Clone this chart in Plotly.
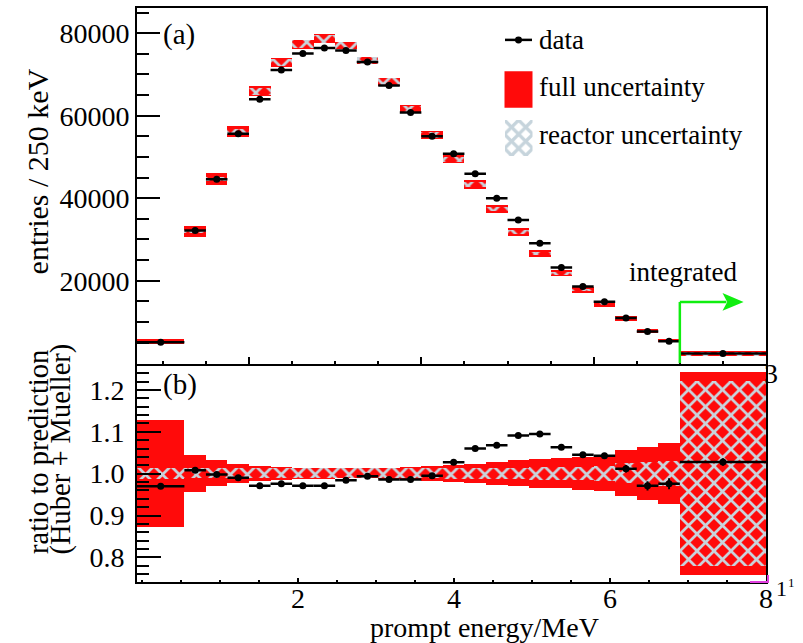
import plotly.graph_objects as go

# Prompt-energy bins (MeV); the last bin holds the integrated content above 7 MeV
bin_low = [0.70, 1.25, 1.50, 1.75, 2.00, 2.25, 2.50, 2.75, 3.00, 3.25, 3.50, 3.75,
           4.00, 4.25, 4.50, 4.75, 5.00, 5.25, 5.50, 5.75, 6.00, 6.25, 6.50, 6.75, 7.00]
bin_high = [1.25, 1.50, 1.75, 2.00, 2.25, 2.50, 2.75, 3.00, 3.25, 3.50, 3.75, 4.00,
            4.25, 4.50, 4.75, 5.00, 5.25, 5.50, 5.75, 6.00, 6.25, 6.50, 6.75, 7.00, 8.00]

# Measured entries per bin
data_counts = [5120, 32200, 44600, 55600, 64000, 71100, 75100, 76400, 75800, 73000,
               67300, 60800, 55000, 50800, 45900, 40000, 34700, 29100, 23200, 18600,
               14900, 11000, 7680, 5360, 2370]

# Ratio of data to the Huber + Mueller prediction
ratio = [0.970, 1.008, 0.998, 0.990, 0.971, 0.976, 0.971, 0.971, 0.984, 0.994,
         0.986, 0.986, 0.995, 1.027, 1.060, 1.068, 1.091, 1.095, 1.063, 1.045,
         1.043, 1.012, 0.971, 0.976, 1.028]
ratio_err = [0.005, 0.003, 0.002, 0.002, 0.002, 0.002, 0.002, 0.002, 0.002, 0.002,
             0.002, 0.002, 0.002, 0.002, 0.003, 0.003, 0.003, 0.003, 0.004, 0.005,
             0.006, 0.009, 0.011, 0.013, 0.009]

# Relative uncertainties of the prediction
full_unc = [0.127, 0.044, 0.031, 0.023, 0.018, 0.016, 0.014, 0.014, 0.012, 0.012,
            0.014, 0.016, 0.018, 0.020, 0.023, 0.027, 0.031, 0.034, 0.036, 0.040,
            0.042, 0.055, 0.064, 0.072, 0.243]
reactor_unc = [0.013, 0.012, 0.012, 0.012, 0.012, 0.012, 0.012, 0.012, 0.012, 0.012,
               0.012, 0.012, 0.012, 0.013, 0.013, 0.014, 0.014, 0.015, 0.015, 0.016,
               0.017, 0.024, 0.027, 0.030, 0.220]

# Axis tick labels
count_ticks = [20000, 40000, 60000, 80000]
ratio_ticks = [0.8, 0.9, 1.0, 1.1, 1.2]
energy_ticks = [2, 4, 6, 8]

# Start of the integrated region and height of its marker arrow
INTEGRATED_FROM = 7.0
ARROW_LEVEL = 14850
ARROW_TIP = 7.74

RED = "#ff0a0a"
HATCH = "#c8d4dc"
GREEN = "#10ee10"
FONT = "Liberation Serif"
TICK_SIZE = 28

centers = [(lo + hi) / 2 for lo, hi in zip(bin_low, bin_high)]
widths = [hi - lo for lo, hi in zip(bin_low, bin_high)]
half_w = [w / 2 for w in widths]
prediction = [d / r for d, r in zip(data_counts, ratio)]

# Pixel frame of the plotting area inside the 803x643 canvas
PL, PR, PT, PB = 137, 766, 6, 582
W, H = 803, 643


def px(x):
    return (x - PL) / (PR - PL)


def py(y):
    return (PB - y) / (PB - PT)


split = py(363.5)

hatch = dict(shape="x", fillmode="replace", fgcolor=HATCH, fgopacity=1,
             bgcolor="rgba(0,0,0,0)", size=12, solidity=0.4)

fig = go.Figure()

# ---- upper panel: spectrum ----
fig.add_trace(go.Bar(
    x=centers, width=widths,
    base=[p * (1 - s) for p, s in zip(prediction, full_unc)],
    y=[2 * p * s for p, s in zip(prediction, full_unc)],
    marker=dict(color=RED, line=dict(width=0)),
    xaxis="x", yaxis="y", showlegend=False))
fig.add_trace(go.Bar(
    x=centers, width=widths,
    base=[p * (1 - s) for p, s in zip(prediction, reactor_unc)],
    y=[2 * p * s for p, s in zip(prediction, reactor_unc)],
    marker=dict(color="rgba(0,0,0,0)", line=dict(width=0), pattern=hatch),
    xaxis="x", yaxis="y", showlegend=False))
fig.add_trace(go.Scatter(
    x=centers, y=data_counts, mode="markers",
    marker=dict(color="black", size=7),
    error_x=dict(type="data", array=half_w, color="black", thickness=2.5, width=0),
    xaxis="x", yaxis="y", showlegend=False))

# ---- lower panel: ratio to prediction ----
fig.add_trace(go.Bar(
    x=centers, width=widths,
    base=[1 - s for s in full_unc], y=[2 * s for s in full_unc],
    marker=dict(color=RED, line=dict(width=0)),
    xaxis="x2", yaxis="y2", showlegend=False))
fig.add_trace(go.Bar(
    x=centers, width=widths,
    base=[1 - s for s in reactor_unc], y=[2 * s for s in reactor_unc],
    marker=dict(color="rgba(0,0,0,0)", line=dict(width=0), pattern=hatch),
    xaxis="x2", yaxis="y2", showlegend=False))
fig.add_trace(go.Scatter(
    x=centers, y=ratio, mode="markers",
    marker=dict(color="black", size=7),
    error_x=dict(type="data", array=half_w, color="black", thickness=2.5, width=0),
    error_y=dict(type="data", array=ratio_err, color="black", thickness=2, width=0),
    xaxis="x2", yaxis="y2", showlegend=False))
# keeps the labelled energy axis of the lower panel alive
fig.add_trace(go.Scatter(x=[4], y=[1], mode="markers", marker=dict(opacity=0),
                         hoverinfo="skip", xaxis="x3", yaxis="y2", showlegend=False))

# ---- hatched legend swatch ----
fig.add_trace(go.Bar(
    x=[0.5], y=[1], base=[0], width=[1],
    marker=dict(color="rgba(0,0,0,0)", line=dict(width=0),
                pattern=dict(shape="x", fillmode="replace", fgcolor="#c6d4dc", fgopacity=1,
                             bgcolor="white", size=10, solidity=0.55)),
    xaxis="x4", yaxis="y4", showlegend=False, hoverinfo="skip"))

axis_common = dict(showgrid=False, zeroline=False, linecolor="black", linewidth=2,
                   tickcolor="black", tickwidth=2,
                   tickfont=dict(family=FONT, size=TICK_SIZE, color="black"))

fig.update_layout(
    width=W, height=H,
    margin=dict(l=PL, r=W - PR, t=PT, b=H - PB, pad=0),
    paper_bgcolor="white", plot_bgcolor="rgba(0,0,0,0)",
    barmode="overlay", bargap=0,
    font=dict(family=FONT, color="black"),
    xaxis=dict(axis_common, domain=[0, 1], anchor="y", range=[0.7, 8.0],
               showticklabels=False, ticks="inside", tickmode="linear", tick0=0, dtick=2,
               ticklen=7, showline=True, mirror=True,
               minor=dict(ticks="inside", tickmode="linear", tick0=0, dtick=0.5,
                          ticklen=3.5, tickwidth=1.5, tickcolor="black")),
    yaxis=dict(axis_common, domain=[split, 1], anchor="x", range=[-240, 86100],
               tickmode="array", tickvals=count_ticks, ticktext=[str(v) for v in count_ticks],
               ticks="inside", ticklen=23, showline=True, mirror=True,
               minor=dict(ticks="inside", tickmode="linear", tick0=0, dtick=5000,
                          ticklen=12, tickwidth=2, tickcolor="black")),
    xaxis2=dict(axis_common, domain=[0, 1], anchor="y2", range=[0.7, 8.0],
                showticklabels=False, ticks="", showline=False),
    xaxis3=dict(axis_common, overlaying="x2", anchor="y2", range=[-0.07, 8.0],
                tickmode="array", tickvals=energy_ticks, showticklabels=False,
                ticks="inside", ticklen=4, showline=True,
                minor=dict(ticks="inside", tickmode="linear", tick0=0, dtick=0.5,
                           ticklen=2.5, tickwidth=1.5, tickcolor="black")),
    yaxis2=dict(axis_common, domain=[0, split], anchor="x2", range=[0.7412, 1.2614],
                tickmode="array", tickvals=ratio_ticks, ticktext=[f"{v:.1f}" for v in ratio_ticks],
                ticks="inside", ticklen=24, showline=True, mirror=True, ticklabelstandoff=5,
                minor=dict(ticks="inside", tickmode="linear", tick0=0, dtick=0.02,
                           ticklen=12, tickwidth=2, tickcolor="black")),
    xaxis4=dict(domain=[px(504.5), px(532.5)], anchor="y4", range=[0, 1], visible=False),
    yaxis4=dict(domain=[py(155), py(118.5)], anchor="x4", range=[0, 1], visible=False),
)

ann = []


def label(text, x, y, size=27, angle=0, xanchor="center", **kw):
    ann.append(dict(text=text, x=px(x), y=py(y), xref="paper", yref="paper",
                    showarrow=False, textangle=angle, xanchor=xanchor, yanchor="middle",
                    font=dict(family=FONT, size=size, color="black"), **kw))


# energy tick labels of the lower panel, placed on its labelled axis
for v in energy_ticks:
    ann.append(dict(text=str(v), x=v, y=py(599), xref="x3", yref="paper",
                    showarrow=False, xanchor="center", yanchor="middle",
                    font=dict(family=FONT, size=TICK_SIZE, color="black")))

label("entries / 250 keV", 37, 170, size=30, angle=-90)
label("ratio to prediction", 38.5, 452, size=28.5, angle=-90)
label("(Huber + Mueller)", 61, 449, size=28.5, angle=-90)
label("prompt energy/MeV", 485, 628, size=28)
label("(a)", 178.5, 33, size=29)
label("(b)", 179.5, 384, size=29)
label("data", 537, 38, xanchor="left")
label("full uncertainty", 537, 85, xanchor="left")
label("reactor uncertainty", 537, 133.5, xanchor="left")
label("integrated", 682.5, 270.5)
label("3", 771, 373, size=28)
label("1", 781.5, 589, size=22)
label("1", 791, 582, size=13)
fig.update_layout(annotations=ann)

shapes = [
    # legend markers
    dict(type="line", xref="paper", yref="paper", x0=px(505), x1=px(532), y0=py(38), y1=py(38),
         line=dict(color="black", width=2.5)),
    dict(type="circle", xref="paper", yref="paper", x0=px(515), x1=px(522), y0=py(41.5), y1=py(34.5),
         fillcolor="black", line=dict(color="black", width=0)),
    dict(type="rect", xref="paper", yref="paper", x0=px(504.5), x1=px(532.5), y0=py(106), y1=py(69.5),
         fillcolor=RED, line=dict(width=0)),
    # integrated-region arrow
    dict(type="line", xref="x", yref="y", x0=INTEGRATED_FROM, x1=INTEGRATED_FROM, y0=0, y1=ARROW_LEVEL,
         line=dict(color=GREEN, width=2.5)),
    dict(type="line", xref="x", yref="y", x0=INTEGRATED_FROM, x1=ARROW_TIP - 0.2, y0=ARROW_LEVEL,
         y1=ARROW_LEVEL, line=dict(color=GREEN, width=2.5)),
    dict(type="path", xref="x", yref="y",
         path=f"M {ARROW_TIP - 0.245},{ARROW_LEVEL + 2150} L {ARROW_TIP},{ARROW_LEVEL} "
              f"L {ARROW_TIP - 0.245},{ARROW_LEVEL - 2150} L {ARROW_TIP - 0.19},{ARROW_LEVEL} Z",
         fillcolor=GREEN, line=dict(width=0)),
    # small magenta mark in the lower right corner
    dict(type="path", xref="paper", yref="paper",
         path=f"M {px(750)},{py(582)} L {px(768)},{py(582)} L {px(768)},{py(575)}",
         line=dict(color="#e040e0", width=2)),
]
fig.update_layout(shapes=shapes)

fig.write_html("out.html")
